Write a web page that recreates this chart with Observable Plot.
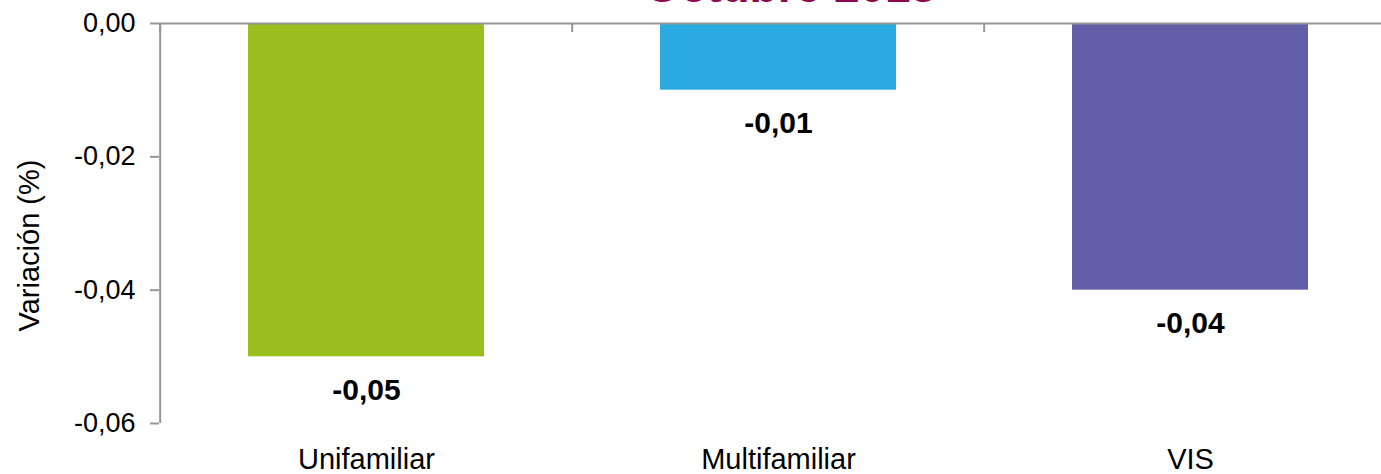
<!DOCTYPE html>
<html>
<head>
<meta charset="utf-8">
<script src="https://cdn.jsdelivr.net/npm/d3@7"></script>
<script src="https://cdn.jsdelivr.net/npm/@observablehq/plot@0.6"></script>
<style>
  html, body { margin: 0; padding: 0; background: #fff; }
</style>
</head>
<body>
<div id="chart"></div>
<script>
const categories = ["Unifamiliar", "Multifamiliar", "VIS"];
const values = [-0.05, -0.01, -0.04];
const colors = ["#9BBE1F", "#29ABE2", "#625EA8"];
const yTicks = [0, -0.02, -0.04, -0.06];
const title = "Octubre 2013";
const yLabel = "Variación (%)";

const data = categories.map((c, i) => ({cat: c, value: values[i]}));
const fmt = d => d.toFixed(2).replace(".", ",");

const W = 1381, H = 474;
const mL = 159, mR = -16, mT = 23, mB = 51;
const xRange = [mL, W - mR];
const step = (xRange[1] - xRange[0]) / categories.length;
const plotH = H - mT - mB;
const yDomain = [-0.06, 0];
const tickLen = 9 * (yDomain[1] - yDomain[0]) / plotH;
const axisColor = "#969696";

const chart = Plot.plot({
  width: W,
  height: H,
  marginTop: mT,
  marginBottom: mB,
  marginLeft: mL,
  marginRight: mR,
  style: {fontFamily: "'Liberation Sans', Arial, sans-serif", background: "#fff", color: "#000"},
  x: {type: "band", domain: categories, range: xRange, padding: 0},
  y: {domain: yDomain},
  color: {domain: categories, range: colors},
  marks: [
    Plot.barY(data, {x: "cat", y: "value", fill: "cat", insetLeft: 88, insetRight: 88}),
    Plot.ruleY([0], {stroke: axisColor, strokeWidth: 2}),
    Plot.ruleX([categories[0]], {x: d => d, dx: -step / 2, y1: yDomain[1], y2: yDomain[0], stroke: axisColor, strokeWidth: 2}),
    Plot.ruleX(categories, {x: d => d, dx: -step / 2, y1: 0, y2: -tickLen, stroke: axisColor, strokeWidth: 2}),
    Plot.axisY({ticks: yTicks, tickFormat: fmt, tickSize: 9, tickPadding: 15, fontSize: 27, stroke: axisColor, strokeWidth: 2, label: null}),
    Plot.axisX({anchor: "bottom", tickSize: 0, tickPadding: 25, fontSize: 29, label: null}),
    Plot.text(data, {x: "cat", y: "value", text: d => fmt(d.value), lineAnchor: "top", dy: 22, fontSize: 30, fontWeight: "bold", fill: "#000"}),
    Plot.text([yLabel], {frameAnchor: "left", textAnchor: "middle", rotate: -90, dx: -130, dy: 22, fontSize: 29, fill: "#000"}),
    Plot.text([title], {frameAnchor: "top", lineAnchor: "bottom", dx: 12, dy: -22, fontSize: 46, fontWeight: "bold", fill: "#8B0A4F"})
  ]
});
document.getElementById("chart").appendChild(chart);
</script>
</body>
</html>
